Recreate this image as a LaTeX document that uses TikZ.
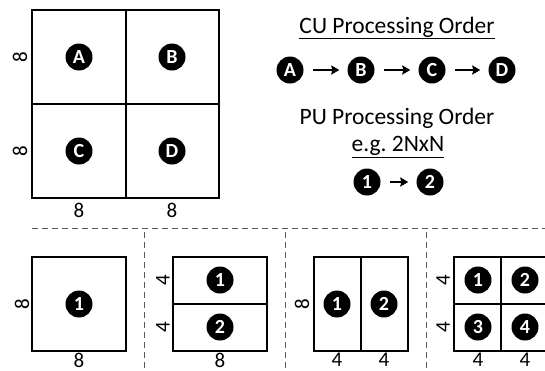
\documentclass[tikz,border=0pt]{standalone}
\usepackage{fontspec}
\setmainfont{Carlito}
\usetikzlibrary{positioning}
\usetikzlibrary{arrows.meta}
\tikzset{
  dot/.style={shape=circle,fill=black,text=white,inner sep=0pt,minimum size=27pt,
    font=\bfseries\fontsize{20}{20}\selectfont},
  dim/.style={inner sep=0pt,font=\fontsize{21}{21}\selectfont},
  head/.style={inner sep=0pt,font=\fontsize{23.5}{23.5}\selectfont},
  outer/.style={line width=2.8pt,line join=miter},
  inner/.style={line width=1.8pt},
  sep/.style={draw=black!65,line width=1pt,dash pattern=on 6pt off 4pt},
  order/.style={line width=2pt,-{Stealth[length=8pt,width=9pt,inset=1pt]},shorten <=9pt,shorten >=8pt},
}
\begin{document}
\begin{tikzpicture}[x=1pt,y=-1pt]
    \clip (0,0) rectangle (545,370);
    \fill[white] (0,0) rectangle (545,370);

    % CU split into four
    \draw[inner] (126,10) -- (126,198);
    \draw[inner] (32,104) -- (219,104);
    \draw[outer] (32,10) rectangle (219,198);
    \node[dot] (A) at (79,57) {A};
    \node[dot] (B) at (172,57) {B};
    \node[dot] (C) at (79,151) {C};
    \node[dot] (D) at (172,151) {D};
    \node[dim,rotate=90] (h_top) at (20,57) {8};
    \node[dim,rotate=90] (h_bot) at (20,151) {8};
    \node[dim] (w_left) at (79,210) {8};
    \node[dim] (w_right) at (172,210) {8};

    % processing order
    \node[head] (cu_title) at (397,28) {\underline{CU Processing Order}};
    \node[dot] (oA) at (290,70) {A};
    \node[dot] (oB) at (361,70) {B};
    \node[dot] (oC) at (432,70) {C};
    \node[dot] (oD) at (502,70) {D};
    \draw[order] (oA) -- (oB);
    \draw[order] (oB) -- (oC);
    \draw[order] (oC) -- (oD);
    \node[head] (pu_title) at (397,118) {PU Processing Order};
    \node[head] (pu_example) at (398,147) {\underline{e.g.\ 2NxN}};
    \node[dot] (o1) at (367,182) {1};
    \node[dot] (o2) at (430,182) {2};
    \draw[order] (o1) -- (o2);

    % separators
    \draw[sep] (32,228) -- (545,228);
    \foreach \x in {144,285,426}
        \draw[sep] (\x,232) -- (\x,370);

    % 2Nx2N
    \draw[outer] (32,257) rectangle (126,351);
    \node[dot] (p1) at (79,304) {1};
    \node[dim,rotate=90] (p1_h) at (22,304) {8};
    \node[dim] (p1_w) at (79,360) {8};

    % 2NxN
    \draw[inner] (173,304) -- (267,304);
    \draw[outer] (173,257) rectangle (267,351);
    \node[dot] (q1) at (220,280) {1};
    \node[dot] (q2) at (220,327) {2};
    \node[dim,rotate=90] (q1_h) at (163,280) {4};
    \node[dim,rotate=90] (q2_h) at (163,327) {4};
    \node[dim] (q_w) at (220,360) {8};

    % Nx2N
    \draw[inner] (361,257) -- (361,351);
    \draw[outer] (314,257) rectangle (408,351);
    \node[dot] (r1) at (337,304) {1};
    \node[dot] (r2) at (384,304) {2};
    \node[dim,rotate=90] (r_h) at (302,304) {8};
    \node[dim] (r1_w) at (337,360) {4};
    \node[dim] (r2_w) at (384,360) {4};

    % NxN
    \draw[inner] (501,257) -- (501,351);
    \draw[inner] (454,304) -- (548,304);
    \draw[outer] (454,257) rectangle (548,351);
    \node[dot] (s1) at (478,280) {1};
    \node[dot] (s2) at (525,280) {2};
    \node[dot] (s3) at (478,327) {3};
    \node[dot] (s4) at (525,327) {4};
    \node[dim,rotate=90] (s1_h) at (443,280) {4};
    \node[dim,rotate=90] (s3_h) at (443,327) {4};
    \node[dim] (s1_w) at (478,360) {4};
    \node[dim] (s2_w) at (525,360) {4};
\end{tikzpicture}
\end{document}
